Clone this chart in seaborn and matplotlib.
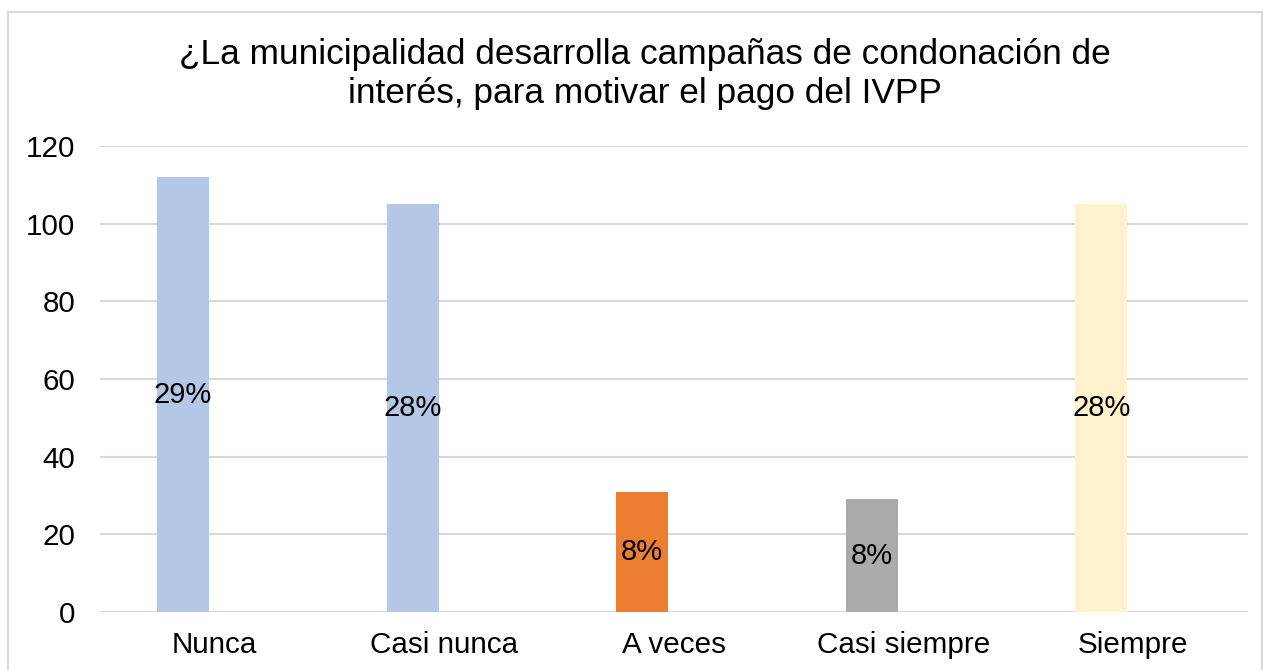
import matplotlib
matplotlib.use('Agg')
import matplotlib.pyplot as plt
import matplotlib.patches as mpatches
import pandas as pd
import seaborn as sns

# Data
categories = ['Nunca', 'Casi nunca', 'A veces', 'Casi siempre', 'Siempre']
values = [112, 105, 31, 29, 105]
pct_labels = ['29%', '28%', '8%', '8%', '28%']
colors = ['#B4C7E7', '#B4C7E7', '#ED7D31', '#AEAAAA', '#FFF2CC']
yticks = [0, 20, 40, 60, 80, 100, 120]

sns.set_style('white')
plt.rcParams['font.family'] = ['Liberation Sans', 'DejaVu Sans']
plt.rcParams['text.color'] = 'black'

df = pd.DataFrame({'cat': categories, 'val': values})

fig = plt.figure(figsize=(12.68, 6.70), dpi=100)
ax = fig.add_axes([100 / 1268, 1 - 612 / 670, 1148 / 1268, 466 / 670])

bar_w = 0.2265
shift = -0.1385
sns.barplot(df, x='cat', y='val', hue='cat', palette=colors, width=bar_w,
            legend=False, ax=ax, saturation=1, zorder=3)

# Excel-style placement: bar sits left of category centre
for p in ax.patches:
    p.set_x(p.get_x() + shift)
    p.set_linewidth(0)

for i, (v, lab) in enumerate(zip(values, pct_labels)):
    ax.text(i + shift, v / 2, lab, ha='center', va='center', fontsize=21, color='black', zorder=4)

ax.set_xlim(-0.5, len(categories) - 0.5)
ax.set_ylim(0, 120)
ax.set_yticks(yticks)
ax.yaxis.grid(True, color='#D9D9D9', linewidth=1.5, zorder=0)
ax.set_axisbelow(True)
for s in ax.spines.values():
    s.set_visible(False)
ax.tick_params(axis='both', length=0, labelsize=21.3, colors='black')
ax.tick_params(axis='y', pad=18)
ax.tick_params(axis='x', pad=14)
ax.set_xlabel('')
ax.set_ylabel('')

fig.text(645 / 1268, 1 - 74 / 670,
         '¿La municipalidad desarrolla campañas de condonación de\ninterés, para motivar el pago del IVPP',
         ha='center', va='center', fontsize=25.4, linespacing=1.25, color='black')

# light border around the chart area
fig.patches.append(mpatches.Rectangle((8 / 1268, -0.05), 1254 / 1268, 1.05 - 12 / 670,
                                      transform=fig.transFigure, fill=False,
                                      edgecolor='#D9D9D9', linewidth=1.5))

fig.savefig('out.png', dpi=100)
